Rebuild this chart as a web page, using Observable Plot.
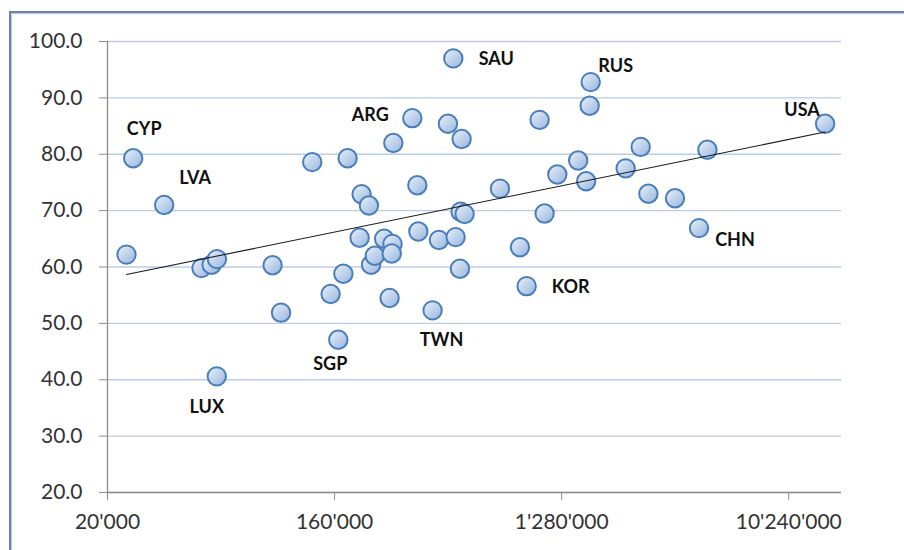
<!DOCTYPE html>
<html>
<head>
<meta charset="utf-8">
<script src="https://cdn.jsdelivr.net/npm/d3@7"></script>
<script src="https://cdn.jsdelivr.net/npm/@observablehq/plot@0.6"></script>
<style>
html, body { margin: 0; padding: 0; background: #fff; overflow: hidden; width: 904px; height: 550px; }
#frame { position: absolute; left: 9px; top: 11px; width: 1000px; height: 1000px;
  border-left: 2px solid #6485b6; border-top: 2px solid #6485b6;
  box-shadow: inset 1px 1px 1px rgba(90,90,90,0.35); }
#chart { position: absolute; left: 0; top: 0; }
</style>
</head>
<body>
<div id="frame"></div>
<svg width="0" height="0" style="position:absolute">
  <defs>
    <linearGradient id="dotFill" x1="0" y1="0" x2="1" y2="1">
      <stop offset="0" stop-color="#eaf1f9"/>
      <stop offset="1" stop-color="#95b5df"/>
    </linearGradient>
  </defs>
</svg>
<div id="chart"></div>
<script>
// ---- data ----
const labels = ["CYP","LVA","","","","","LUX","","","","","SGP","","","","","","","","","","","","","ARG","","","TWN","","","SAU","","","","","","","","KOR","","","","","","","RUS","","","","","CHN","","USA"];
const xValues = [25300,33600,23800,47300,51900,54500,54400,90700,98000,130400,154300,165500,173400,180300,201200,204900,219100,223500,231300,251900,272000,270000,264800,274000,326000,341400,344500,392600,416000,451800,474600,484800,504300,512200,507500,526400,727400,873600,928800,1046000,1095000,1230000,1489000,1602000,1654000,1670000,2300000,2639000,2832000,3614000,4503000,4862000,14284000];
const yValues = [79.3,71.0,62.2,59.8,60.4,61.4,40.6,60.3,51.9,78.6,55.2,47.1,58.8,79.3,65.2,72.9,70.9,60.4,62.0,65.0,64.1,62.4,54.5,82.0,86.4,74.5,66.3,52.3,64.8,85.4,97.0,65.3,59.7,82.7,69.8,69.4,73.9,63.5,56.6,86.1,69.5,76.4,78.9,75.2,88.6,92.8,77.5,81.3,73.0,72.2,66.9,80.8,85.4];
const xTicks = [20000, 160000, 1280000, 10240000];
const yTicks = [20, 30, 40, 50, 60, 70, 80, 90, 100];

// ---- style: label offsets in pixels ----
const labelOffsets = {
  CYP: [11, -29], LVA: [31, -27], ARG: [-42, -3], SAU: [43, 1], RUS: [25, -16],
  USA: [-23, -14], CHN: [36, 12], KOR: [44, 1], TWN: [9, 30], SGP: [-8, 25], LUX: [-10, 31]
};

const points = xValues.map((x, i) => ({x, y: yValues[i], label: labels[i]}));

// logarithmic trend line (least squares of y on ln x)
const lx = points.map(d => Math.log(d.x));
const mx = d3.mean(lx), my = d3.mean(yValues);
const slope = d3.sum(lx.map((v, i) => (v - mx) * (yValues[i] - my))) / d3.sum(lx.map(v => (v - mx) ** 2));
const intercept = my - slope * mx;
const [xmin, xmax] = d3.extent(xValues);
const trend = [xmin, xmax].map(x => ({x, y: intercept + slope * Math.log(x)}));

const loc = d3.formatLocale({decimal: ".", thousands: "'", grouping: [3], currency: ["", ""]});
const fmtX = loc.format(",d");
const fmtY = d3.format(".1f");

const labelMarks = points.filter(d => d.label).map(d =>
  Plot.text([d], {x: "x", y: "y", text: "label", dx: labelOffsets[d.label][0], dy: labelOffsets[d.label][1],
    fontSize: 18, fontWeight: "bold", fill: "#111", textAnchor: "middle"}));

const chart = Plot.plot({
  width: 904,
  height: 550,
  marginLeft: 107,
  marginRight: 63,
  marginTop: 41,
  marginBottom: 58,
  style: {fontFamily: "Lato, 'Open Sans', sans-serif", fontSize: "21px", color: "#333", background: "transparent"},
  x: {type: "log", domain: [20000, 16600000], axis: null},
  y: {domain: [20, 100], axis: null},
  marks: [
    Plot.gridY(yTicks, {stroke: "#b9cde5", strokeOpacity: 1, strokeWidth: 1.4}),
    Plot.ruleX([20000], {stroke: "#8c8c8c", strokeWidth: 1.3}),
    Plot.ruleY([20], {stroke: "#8c8c8c", strokeWidth: 1.3}),
    Plot.axisY(yTicks, {label: null, tickSize: 8, tickPadding: 17, tickFormat: fmtY, stroke: "#8c8c8c", fill: "#333", fontSize: 21}),
    Plot.axisX(xTicks, {label: null, tickSize: 8, tickPadding: 14, tickFormat: fmtX, stroke: "#8c8c8c", fill: "#333", fontSize: 21}),
    Plot.dot(points, {x: "x", y: "y", r: 9.2, fill: "url(#dotFill)", stroke: "#4a7ebb", strokeWidth: 2}),
    Plot.line(trend, {x: "x", y: "y", stroke: "#1a1a1a", strokeWidth: 1.1}),
    ...labelMarks
  ]
});
document.getElementById("chart").appendChild(chart);
</script>
</body>
</html>
